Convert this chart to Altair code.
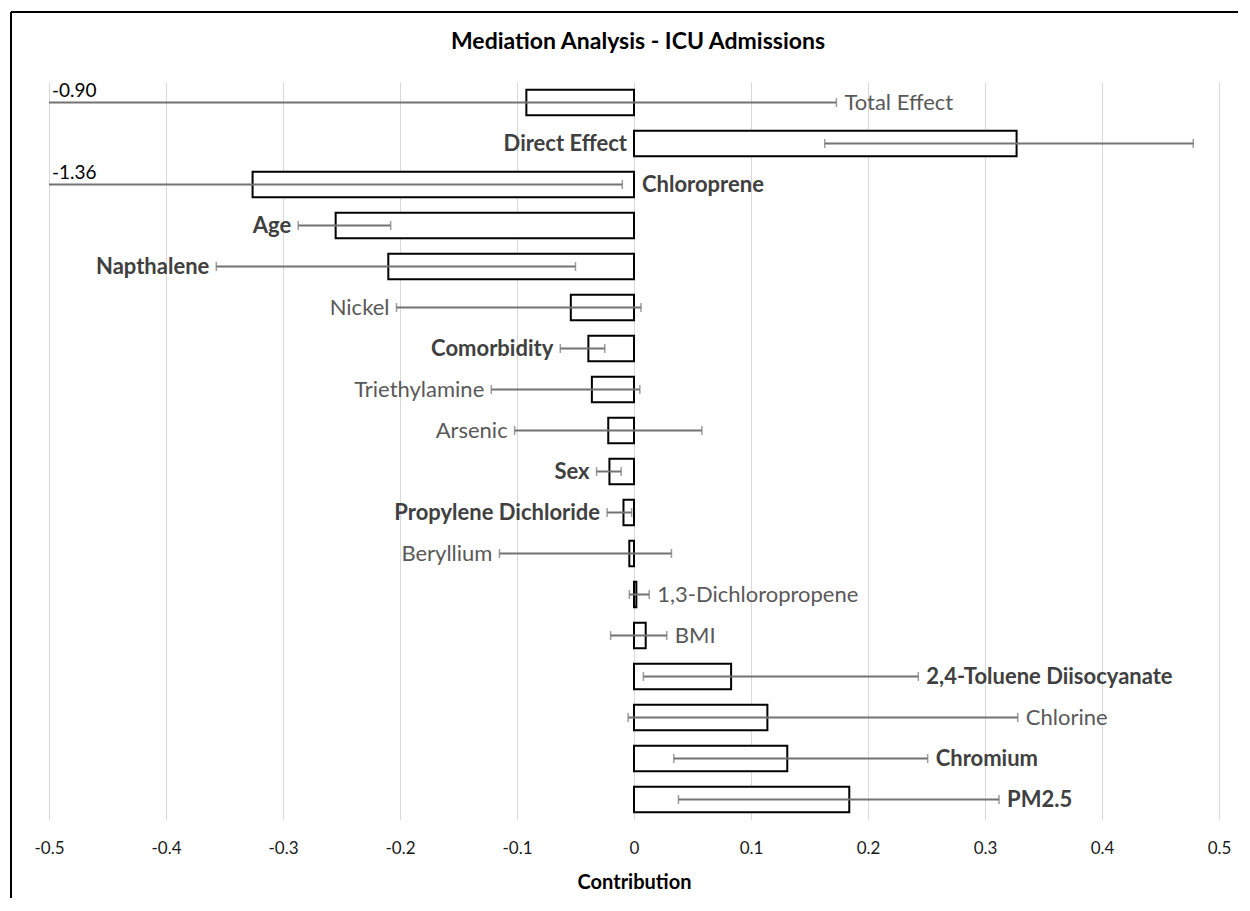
import altair as alt
import pandas as pd

categories = ["Total Effect", "Direct Effect", "Chloroprene", "Age", "Napthalene", "Nickel",
              "Comorbidity", "Triethylamine", "Arsenic", "Sex", "Propylene Dichloride",
              "Beryllium", "1,3-Dichloropropene", "BMI", "2,4-Toluene Diisocyanate",
              "Chlorine", "Chromium", "PM2.5"]
estimate = [-0.092, 0.327, -0.326, -0.255, -0.210, -0.054, -0.039, -0.036, -0.022, -0.021,
            -0.009, -0.004, 0.002, 0.010, 0.083, 0.114, 0.131, 0.184]
lower = [-0.90, 0.163, -1.36, -0.287, -0.357, -0.203, -0.063, -0.122, -0.102, -0.032,
         -0.023, -0.115, -0.004, -0.020, 0.008, -0.005, 0.034, 0.038]
upper = [0.173, 0.478, -0.010, -0.208, -0.050, 0.006, -0.025, 0.005, 0.058, -0.011,
         -0.002, 0.032, 0.013, 0.028, 0.243, 0.328, 0.251, 0.312]
label_side = ["right", "left", "right", "left", "left", "left", "left", "left", "left", "left",
              "left", "left", "right", "right", "right", "right", "right", "right"]
bold = [False, True, True, True, True, False, True, False, False, True, True, False,
        False, False, True, False, True, True]
title_text = ["Mediation Analysis - ICU Admissions"]
tick_values = [-0.5, -0.4, -0.3, -0.2, -0.1, 0, 0.1, 0.2, 0.3, 0.4, 0.5]

df = pd.DataFrame({"name": categories, "est": estimate, "lo": lower, "hi": upper,
                   "side": label_side, "bold": bold})
df["anchor"] = [min(l, 0) if s == "left" else max(h, 0)
                for l, h, s in zip(df.lo, df.hi, df.side)]

W, H = 1170, 738
PL, PT, PR, PB = 41, 74, 19, 78
FONT = "Lato"
ERR_COLOR = "#737373"

xscale = alt.Scale(domain=[-0.5, 0.5], clamp=True, nice=False)
yenc = alt.Y("name:N", sort=categories, axis=None,
             scale=alt.Scale(paddingInner=0.38, paddingOuter=0.19))

base = alt.Chart(df)

bars = base.mark_bar(fill="white", stroke="black", strokeWidth=2).encode(
    x=alt.X("est:Q", scale=xscale,
            axis=alt.Axis(values=tick_values,
                          labelExpr="toString(round(datum.value*10)/10)",
                          title="Contribution", grid=True, gridColor="#d9d9d9",
                          domain=False, ticks=False, labelFontSize=17, labelPadding=20,
                          labelFlush=False, labelOverlap=False,
                          labelColor="#1a1a1a", labelFont=FONT,
                          titleFont=FONT, titleFontSize=20, titleFontWeight="bold",
                          titleColor="#000000", titlePadding=16)),
    x2=alt.value(W / 2),
    y=yenc,
)

err = base.mark_rule(color=ERR_COLOR, strokeWidth=2).encode(
    x=alt.X("lo:Q", scale=xscale), x2="hi:Q", y=yenc)

caps_lo = base.transform_filter("datum.lo >= -0.5").mark_tick(
    color=ERR_COLOR, thickness=1.5, size=9).encode(x=alt.X("lo:Q", scale=xscale), y=yenc)
caps_hi = base.mark_tick(color=ERR_COLOR, thickness=1.5, size=9).encode(
    x=alt.X("hi:Q", scale=xscale), y=yenc)

clip_txt = base.transform_filter("datum.lo < -0.5").transform_calculate(
    t="replace(format(datum.lo, '.2f'), '\u2212', '-')"
).mark_text(align="left", baseline="bottom", dx=3, dy=-2, fontSize=19, font=FONT,
            color="#000000").encode(x=alt.value(0), y=yenc, text="t:N")

label_layers = []
for side in ("left", "right"):
    for b in (True, False):
        flt = f"datum.side == '{side}' && datum.bold == {'true' if b else 'false'}"
        label_layers.append(
            base.transform_filter(flt).mark_text(
                align="right" if side == "left" else "left", baseline="middle",
                dx=-7 if side == "left" else 8,
                fontSize=22, font=FONT, fontWeight="bold" if b else "normal",
                color="#404040" if b else "#595959"
            ).encode(x=alt.X("anchor:Q", scale=xscale), y=yenc, text="name:N")
        )

title = alt.Chart(pd.DataFrame({"t": title_text})).mark_text(
    font=FONT, fontSize=23, fontWeight="bold", color="#000000",
    align="center", baseline="middle").encode(
    x=alt.value(589), y=alt.value(-40), text="t:N")

one = pd.DataFrame({"a": [0]})
frame_top = alt.Chart(one).mark_rule(color="#000000", strokeWidth=2).encode(
    x=alt.value(-PL + 3), x2=alt.value(W + PR), y=alt.value(-PT + 4))
frame_left = alt.Chart(one).mark_rule(color="#000000", strokeWidth=2).encode(
    x=alt.value(-PL + 3), y=alt.value(-PT + 4), y2=alt.value(H + PB))

chart = alt.layer(bars, err, caps_lo, caps_hi, clip_txt, *label_layers, title,
                  frame_top, frame_left).properties(
    width=W, height=H,
    autosize=alt.AutoSizeParams(type="none"),
    padding={"left": PL, "top": PT, "right": PR, "bottom": PB},
).configure_view(stroke=None)

chart.save("out.html", embed_options={"renderer": "svg", "actions": False})
